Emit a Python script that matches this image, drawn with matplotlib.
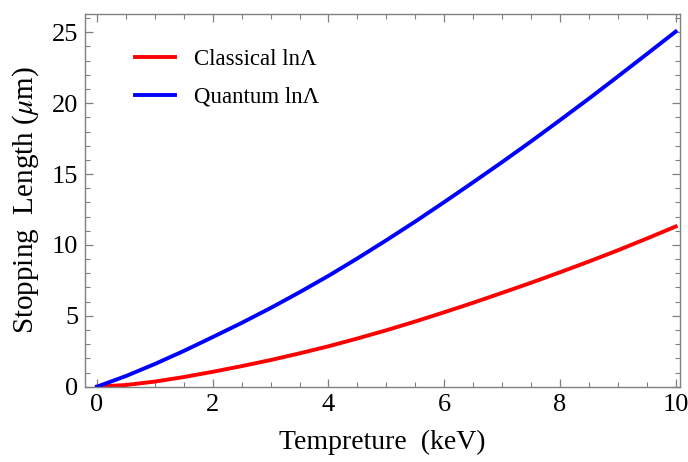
import numpy as np
import matplotlib
matplotlib.use('Agg')
import matplotlib.pyplot as plt
from matplotlib.ticker import MultipleLocator

# temperature (keV)
temp = [0, 0.5, 1, 1.5, 2, 2.5, 3, 3.5, 4, 4.5, 5, 5.5, 6, 6.5, 7, 7.5, 8, 8.5, 9, 9.5, 10]

# stopping length (um)
classical = [0, 0.12, 0.36, 0.68, 1.05, 1.45, 1.88, 2.35, 2.85, 3.4, 3.98, 4.6, 5.25,
             5.92, 6.62, 7.33, 8.07, 8.83, 9.62, 10.45, 11.3]
quantum = [0, 0.75, 1.6, 2.52, 3.5, 4.5, 5.55, 6.66, 7.82, 9.05, 10.33, 11.65, 13.02,
           14.42, 15.84, 17.3, 18.8, 20.32, 21.88, 23.46, 25.05]

plt.rcParams['font.family'] = ['Liberation Serif', 'DejaVu Serif']
plt.rcParams['mathtext.fontset'] = 'stix'

fig = plt.figure(figsize=(6.88, 4.62), dpi=100)
ax = fig.add_axes([0.1235, 0.163, 0.8645, 0.807])

ax.plot(temp, classical, color='#ff0000', lw=2.8, label=r'Classical lnΛ')
ax.plot(temp, quantum, color='#0000ff', lw=2.8, label=r'Quantum lnΛ')

ax.set_xlim(-0.207, 10.07)
ax.set_ylim(0, 26.3)
ax.xaxis.set_major_locator(MultipleLocator(2))
ax.xaxis.set_minor_locator(MultipleLocator(0.5))
ax.yaxis.set_major_locator(MultipleLocator(5))
ax.yaxis.set_minor_locator(MultipleLocator(1))

frame = '#808080'
for s in ax.spines.values():
    s.set_color(frame)
    s.set_linewidth(1.0)
ax.tick_params(which='both', direction='in', top=True, right=True, color=frame,
               labelsize=19, labelcolor='black')
ax.tick_params(which='major', length=6, width=0.9, pad=5)
ax.tick_params(which='minor', length=3.5, width=0.8)

ax.set_xlabel('Tempreture  (keV)', fontsize=20, labelpad=10)
ax.set_ylabel(r'Stopping  Length ($\mu$m)', fontsize=21, labelpad=8)

ax.legend(loc='upper left', frameon=False, fontsize=16.5, handlelength=1.75,
          handletextpad=0.8, labelspacing=0.7, bbox_to_anchor=(0.05, 0.96))

fig.savefig('out.png', dpi=100)
